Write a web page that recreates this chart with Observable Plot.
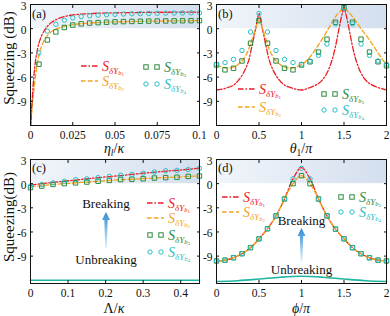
<!DOCTYPE html>
<html><head><meta charset="utf-8">
<script src="https://cdn.jsdelivr.net/npm/d3@7"></script>
<script src="https://cdn.jsdelivr.net/npm/@observablehq/plot@0.6"></script>
<style>
html,body{margin:0;padding:0;background:#fff;}
#wrap{position:relative;width:390px;height:316px;overflow:hidden;}
#wrap svg{position:absolute;left:0;top:0;}
</style></head><body><div id="wrap"></div>
<script>
// ---------- Panel (a): squeezing vs eta_l/kappa ----------
const etaLine = [0, 0.0005, 0.001, 0.002, 0.003, 0.004, 0.005, 0.0065, 0.008, 0.01, 0.0125, 0.015, 0.0175, 0.02, 0.025, 0.03, 0.035, 0.04, 0.05, 0.06, 0.07, 0.08, 0.09, 0.1];
const aRed    = [-14, -10.5, -8.8, -5.9, -3.9, -2.7, -1.8, -0.9, -0.3, 0.3, 0.8, 1.1, 1.35, 1.5, 1.7, 1.8, 1.87, 1.92, 1.97, 2.0, 2.02, 2.04, 2.05, 2.06];
const aOrange = [-14, -11.2, -9.6, -7.6, -5.8, -4.4, -3.3, -2.2, -1.5, -0.85, -0.35, -0.05, 0.15, 0.3, 0.5, 0.62, 0.7, 0.76, 0.84, 0.89, 0.93, 0.96, 0.98, 1.0];
const etaPts  = [0.005, 0.01, 0.015, 0.02, 0.025, 0.03, 0.035, 0.04, 0.045, 0.05, 0.055, 0.06, 0.065, 0.07, 0.075, 0.08, 0.085, 0.09, 0.095, 0.1];
const aGreen  = [-4.4, -1.4, -0.4, 0.15, 0.45, 0.6, 0.7, 0.75, 0.8, 0.85, 0.88, 0.9, 0.92, 0.94, 0.95, 0.96, 0.97, 0.98, 0.99, 1.0];
const aTeal   = [-3.0, -0.3, 0.55, 1.05, 1.35, 1.5, 1.6, 1.68, 1.74, 1.78, 1.82, 1.85, 1.87, 1.89, 1.91, 1.93, 1.94, 1.95, 1.96, 1.97];

// ---------- Panel (b): squeezing vs theta_1/pi ----------
const thetaRed = [0, 0.1, 0.2, 0.25, 0.3, 0.34, 0.38, 0.41, 0.44, 0.46, 0.48, 0.5, 0.52, 0.54, 0.56, 0.59, 0.62, 0.66, 0.7, 0.75, 0.8, 0.9, 1.0,
                  1.1, 1.2, 1.25, 1.3, 1.34, 1.37, 1.4, 1.43, 1.46, 1.48, 1.5, 1.52, 1.54, 1.57, 1.6, 1.63, 1.66, 1.7, 1.75, 1.8, 1.9, 2.0];
const bRed = [-7.6, -7.4, -7.0, -6.5, -5.8, -5.0, -3.9, -2.5, -1.0, 0.0, 1.0, 1.9, 1.0, 0.0, -1.0, -2.5, -3.9, -5.0, -5.8, -6.5, -7.0, -7.4, -7.6,
              -7.3, -6.8, -6.3, -5.5, -4.5, -3.5, -2.2, -0.6, 1.0, 1.9, 2.6, 1.9, 1.0, -0.6, -2.2, -3.5, -4.5, -5.5, -6.3, -6.8, -7.3, -7.6];
const thetaOrange = [0, 0.1, 0.2, 0.3, 0.36, 0.4, 0.45, 0.5, 0.55, 0.6, 0.64, 0.7, 0.8, 0.9, 1.0, 1.1, 1.2, 1.3, 1.4, 1.45, 1.5, 1.55, 1.6, 1.7, 1.8, 1.9, 2.0];
const bOrange = [-4.5, -4.85, -4.75, -4.0, -3.0, -1.9, -0.3, 1.0, -0.3, -1.9, -3.0, -4.0, -4.75, -4.85, -4.45, -3.5, -2.0, -0.3, 1.5, 2.1, 2.6, 2.1, 1.5, 0.0, -1.4, -3.0, -4.5];
const thetaPts = [0, 0.1, 0.2, 0.3, 0.4, 0.5, 0.6, 0.7, 0.8, 0.9, 1.0, 1.1, 1.2, 1.3, 1.4, 1.5, 1.6, 1.7, 1.8, 1.9, 2.0];
const bGreen = [-4.5, -5.1, -4.9, -4.0, -1.8, 1.0, -1.8, -4.0, -4.9, -5.1, -4.5, -4.1, -2.9, -1.3, 0.8, 2.6, 0.8, -1.3, -2.9, -4.1, -4.6];
const bTeal  = [-4.4, -4.2, -3.8, -2.7, -0.4, 1.9, -0.4, -2.7, -3.8, -4.2, -4.4, -4.0, -3.3, -1.9, 0.6, 2.6, 0.6, -1.9, -3.3, -4.0, -4.4];

// ---------- Panel (c): squeezing vs Lambda/kappa ----------
const lambdaPts = [0, 0.03, 0.06, 0.09, 0.12, 0.15, 0.18, 0.21, 0.24, 0.27, 0.3, 0.33, 0.36, 0.39, 0.42, 0.45];
const cRed    = [-0.2, 0.0, 0.15, 0.3, 0.45, 0.6, 0.75, 0.88, 1.0, 1.15, 1.3, 1.42, 1.55, 1.65, 1.78, 1.92];
const cOrange = [-0.4, -0.25, -0.1, 0.0, 0.1, 0.2, 0.3, 0.4, 0.5, 0.55, 0.62, 0.7, 0.76, 0.82, 0.9, 0.96];
const cGreen  = [-0.5, -0.3, -0.1, 0.0, 0.1, 0.2, 0.3, 0.4, 0.5, 0.55, 0.6, 0.7, 0.75, 0.8, 0.9, 0.95];
const cTeal   = [-0.3, -0.1, 0.1, 0.3, 0.5, 0.6, 0.75, 0.9, 1.05, 1.15, 1.3, 1.45, 1.6, 1.65, 1.75, 1.9];
const lambdaBase = [0, 0.45];
const cBase = [-12.0, -12.0];

// ---------- Panel (d): squeezing vs phi/pi ----------
const phiPts = [0, 0.1, 0.2, 0.3, 0.4, 0.5, 0.6, 0.7, 0.8, 0.9, 1.0, 1.1, 1.2, 1.3, 1.4, 1.5, 1.6, 1.7, 1.8, 1.9, 2.0];
const dRed    = [-9.6, -9.5, -9.2, -8.7, -7.95, -6.85, -5.6, -4.0, -1.9, 0.6, 2.0, 0.6, -1.9, -4.0, -5.65, -6.85, -7.95, -8.7, -9.2, -9.5, -9.6];
const dOrange = [-9.6, -9.5, -9.2, -8.7, -7.95, -6.85, -5.6, -4.0, -1.9, 0.0, 1.0, 0.0, -1.9, -4.0, -5.65, -6.85, -7.95, -8.7, -9.2, -9.5, -9.6];
const dGreen  = [-9.6, -9.5, -9.2, -8.7, -7.95, -6.85, -5.6, -4.0, -1.9, 0.0, 1.0, 0.0, -1.9, -4.0, -5.65, -6.85, -7.95, -8.7, -9.2, -9.5, -9.6];
const dTeal   = [-9.6, -9.5, -9.2, -8.7, -7.95, -6.85, -5.6, -4.0, -1.9, 0.6, 1.9, 0.6, -1.9, -4.0, -5.65, -6.85, -7.95, -8.7, -9.2, -9.5, -9.6];
const phiBase = [0, 0.25, 0.5, 0.75, 1.0, 1.25, 1.5, 1.75, 2.0];
const dBase   = [-12.15, -12.05, -11.85, -11.62, -11.5, -11.62, -11.85, -12.05, -12.15];

// ---------- ticks ----------
const ticksA = [0, 0.025, 0.05, 0.075, 0.1];
const ticksB = [0, 0.5, 1, 1.5, 2];
const ticksC = [0, 0.1, 0.2, 0.3, 0.4];
const ticksD = [0, 0.5, 1, 1.5, 2];
const ticksY = [3, 0, -3, -6, -9];

// ---------- styles ----------
const RED = "#ec1c24", ORANGE = "#f5a21b", GREEN = "#2b8a3e", TEAL = "#2ac0c4", BASE = "#1fb5a3";
const FONT = "'Liberation Serif','Times New Roman',serif";
const DASHDOT = "5.5,2,1.5,2", DASH = "4.5,2.5";
const PANELS = {
  a: {mL: 30, mR: 191, mT: 4, mB: 191},
  b: {mL: 216, mR: 4, mT: 4, mB: 191},
  c: {mL: 30, mR: 191, mT: 159, mB: 33},
  d: {mL: 216, mR: 4, mT: 159, mB: 33}
};
const wrap = document.getElementById("wrap");

function lineMark(xs, ys, color, dash, curve) {
  return Plot.line(ys, {x: xs, y: ys, stroke: color, strokeWidth: 1.3, strokeDasharray: dash, curve: curve || "catmull-rom", clip: true});
}
function squares(xs, ys) {
  return Plot.dot(ys, {x: xs, y: ys, symbol: "square", r: 2.5, stroke: GREEN, fill: "none", strokeWidth: 1});
}
function circles(xs, ys) {
  return Plot.dot(ys, {x: xs, y: ys, symbol: "circle", r: 2.2, stroke: TEAL, fill: "none", strokeWidth: 1});
}

function makePanel(key, xDomain, yDomain, xTicks, marks) {
  const m = PANELS[key];
  const gid = "band-" + key;
  const band = [{x1: xDomain[0], x2: xDomain[1], y1: 0, y2: yDomain[1]}];
  const noText = () => "";
  const svg = Plot.plot({
    width: 390, height: 316,
    marginLeft: m.mL, marginRight: m.mR, marginTop: m.mT, marginBottom: m.mB,
    style: {background: "transparent", fontFamily: FONT, fontSize: "11.5px", color: "#111", overflow: "visible"},
    x: {domain: xDomain},
    y: {domain: yDomain},
    marks: [
      Plot.rect(band, {x1: "x1", x2: "x2", y1: "y1", y2: "y2", fill: `url(#${gid})`}),
      ...marks,
      Plot.frame({stroke: "#111", strokeWidth: 1}),
      Plot.axisX(xTicks, {anchor: "bottom", tickSize: 0, tickPadding: 5, tickFormat: d => String(d), label: null}),
      Plot.axisX(xTicks, {anchor: "bottom", tickSize: -3, tickFormat: noText, label: null}),
      Plot.axisX(xTicks, {anchor: "top", tickSize: -3, tickFormat: noText, label: null}),
      Plot.axisY(ticksY, {anchor: "left", tickSize: 0, tickPadding: 4, dy: 1.5, tickFormat: d => String(d), label: null}),
      Plot.axisY(ticksY, {anchor: "left", tickSize: -3, tickFormat: noText, label: null}),
      Plot.axisY(ticksY, {anchor: "right", tickSize: -3, tickFormat: noText, label: null})
    ]
  });
  const defs = d3.select(svg).insert("defs", ":first-child");
  const g = defs.append("linearGradient").attr("id", gid).attr("x1", 0).attr("y1", 0).attr("x2", 1).attr("y2", 0);
  g.append("stop").attr("offset", "0%").attr("stop-color", "#f1f5fa");
  g.append("stop").attr("offset", "100%").attr("stop-color", "#d4dfee");
  wrap.appendChild(svg);
  return svg;
}

makePanel("a", [0, 0.1], [-12, 3], ticksA, [
  lineMark(etaLine, aOrange, ORANGE, DASH, "monotone-x"),
  lineMark(etaLine, aRed, RED, DASHDOT, "monotone-x"),
  squares(etaPts, aGreen),
  circles(etaPts, aTeal)
]);
makePanel("b", [0, 2], [-12, 3], ticksB, [
  lineMark(thetaRed, bRed, RED, DASHDOT),
  lineMark(thetaOrange, bOrange, ORANGE, DASH),
  squares(thetaPts, bGreen),
  circles(thetaPts, bTeal)
]);
makePanel("c", [0, 0.45], [-12.4, 3], ticksC, [
  Plot.line(cBase, {x: lambdaBase, y: cBase, stroke: BASE, strokeWidth: 1.6}),
  lineMark(lambdaPts, cOrange, ORANGE, DASH),
  lineMark(lambdaPts, cRed, RED, DASHDOT),
  squares(lambdaPts, cGreen),
  circles(lambdaPts, cTeal)
]);
makePanel("d", [0, 2], [-12.4, 3], ticksD, [
  Plot.line(dBase, {x: phiBase, y: dBase, stroke: BASE, strokeWidth: 1.6, curve: "catmull-rom"}),
  lineMark(phiPts, dRed, RED, DASHDOT),
  lineMark(phiPts, dOrange, ORANGE, DASH),
  squares(phiPts, dGreen),
  circles(phiPts, dTeal)
]);

// ---------- annotations, legends, titles ----------
const ann = d3.create("svg").attr("width", 390).attr("height", 316)
  .attr("font-family", FONT).style("overflow", "visible");
wrap.appendChild(ann.node());

function rich(x, y, parts, opts = {}) {
  const t = ann.append("text").attr("x", x).attr("y", y).attr("fill", opts.fill || "#111")
    .attr("text-anchor", opts.anchor || "start").attr("font-size", opts.size || 15);
  if (opts.transform) t.attr("transform", opts.transform);
  for (const p of parts) {
    const s = t.append("tspan").text(p.t);
    if (p.i) s.attr("font-style", "italic");
    if (p.s) s.attr("font-size", p.s);
    if (p.dy) s.attr("dy", p.dy);
  }
  return t;
}
function sLabel(x, y, color, n) {
  rich(x, y, [{t: "S", i: 1, s: 14}, {t: "δY", i: 1, s: 9, dy: 3}, {t: "b", i: 1, s: 6.5, dy: 1.5}, {t: n, s: 5, dy: 1}], {fill: color});
}
function legLine(x, y, color, dash, n) {
  ann.append("line").attr("x1", x).attr("x2", x + 17).attr("y1", y).attr("y2", y)
    .attr("stroke", color).attr("stroke-width", 1.3).attr("stroke-dasharray", dash);
  sLabel(x + 21, y + 4.5, color, n);
}
function legMark(x, y, kind, n) {
  for (const dx of [3, 14]) {
    if (kind === "square") ann.append("rect").attr("x", x + dx - 2.2).attr("y", y - 2.2).attr("width", 4.4).attr("height", 4.4)
      .attr("fill", "none").attr("stroke", GREEN).attr("stroke-width", 1);
    else ann.append("circle").attr("cx", x + dx).attr("cy", y).attr("r", 2.2).attr("fill", "none").attr("stroke", TEAL).attr("stroke-width", 1);
  }
  sLabel(x + 21, y + 4.5, kind === "square" ? GREEN : TEAL, n);
}
function legend(x1, x2, rows) {
  legLine(x1, rows[0], RED, DASHDOT, "1");
  legLine(x1, rows[1], ORANGE, DASH, "2");
  legMark(x2, rows[2], "square", "3");
  legMark(x2, rows[3], "circle", "4");
}
legend(81, 143, [66, 81, 67, 84]);
legend(238, 321, [89, 107, 94, 110]);
legend(147, 147, [203, 218, 235, 252]);
legend(222, 338, [197, 212, 197, 212]);

// panel labels
[["(a)", 32, 18], ["(b)", 218, 18], ["(c)", 32, 172], ["(d)", 218, 172]].forEach(([t, x, y]) =>
  ann.append("text").attr("x", x).attr("y", y).attr("font-size", 12.5).attr("fill", "#111").text(t));

// axis titles
rich(114, 153, [{t: "η", i: 1}, {t: "l", i: 1, s: 9.5, dy: 3}, {t: "/", dy: -3}, {t: "κ", i: 1}], {anchor: "middle", size: 14});
rich(301, 153, [{t: "θ", i: 1}, {t: "1", s: 9.5, dy: 3}, {t: "/", dy: -3}, {t: "π", i: 1}], {anchor: "middle", size: 14});
rich(114, 313, [{t: "Λ"}, {t: "/"}, {t: "κ", i: 1}], {anchor: "middle", size: 14});
rich(301, 313, [{t: "ϕ", i: 1}, {t: "/"}, {t: "π", i: 1}], {anchor: "middle", size: 14});
rich(0, 0, [{t: "Squeezing (dB)"}], {anchor: "middle", transform: "translate(14,58) rotate(-90)"});
rich(0, 0, [{t: "Squeezing(dB)"}], {anchor: "middle", transform: "translate(14,217) rotate(-90)"});

// breaking / unbreaking arrows
const adefs = ann.append("defs");
const ag = adefs.append("linearGradient").attr("id", "arrowGrad").attr("x1", 0).attr("y1", 1).attr("x2", 0).attr("y2", 0);
ag.append("stop").attr("offset", "0%").attr("stop-color", "#e4f2fc");
ag.append("stop").attr("offset", "100%").attr("stop-color", "#2a8bd3");
function arrow(x, yTop, yBot) {
  ann.append("path").attr("fill", "url(#arrowGrad)")
    .attr("d", `M${x - 0.8},${yBot} L${x - 1.7},${yTop + 8} L${x - 4},${yTop + 8} L${x},${yTop} L${x + 4},${yTop + 8} L${x + 1.7},${yTop + 8} L${x + 0.8},${yBot} Z`);
}
function brk(x, yB, yU, yTop, yBot) {
  ann.append("text").attr("x", x).attr("y", yB).attr("text-anchor", "middle").attr("font-size", 13).attr("fill", "#111").text("Breaking");
  ann.append("text").attr("x", x).attr("y", yU).attr("text-anchor", "middle").attr("font-size", 13).attr("fill", "#111").text("Unbreaking");
  arrow(x, yTop, yBot);
}
brk(106, 208, 264, 212, 248);
brk(301.5, 225, 274, 228, 262);
</script></body></html>
